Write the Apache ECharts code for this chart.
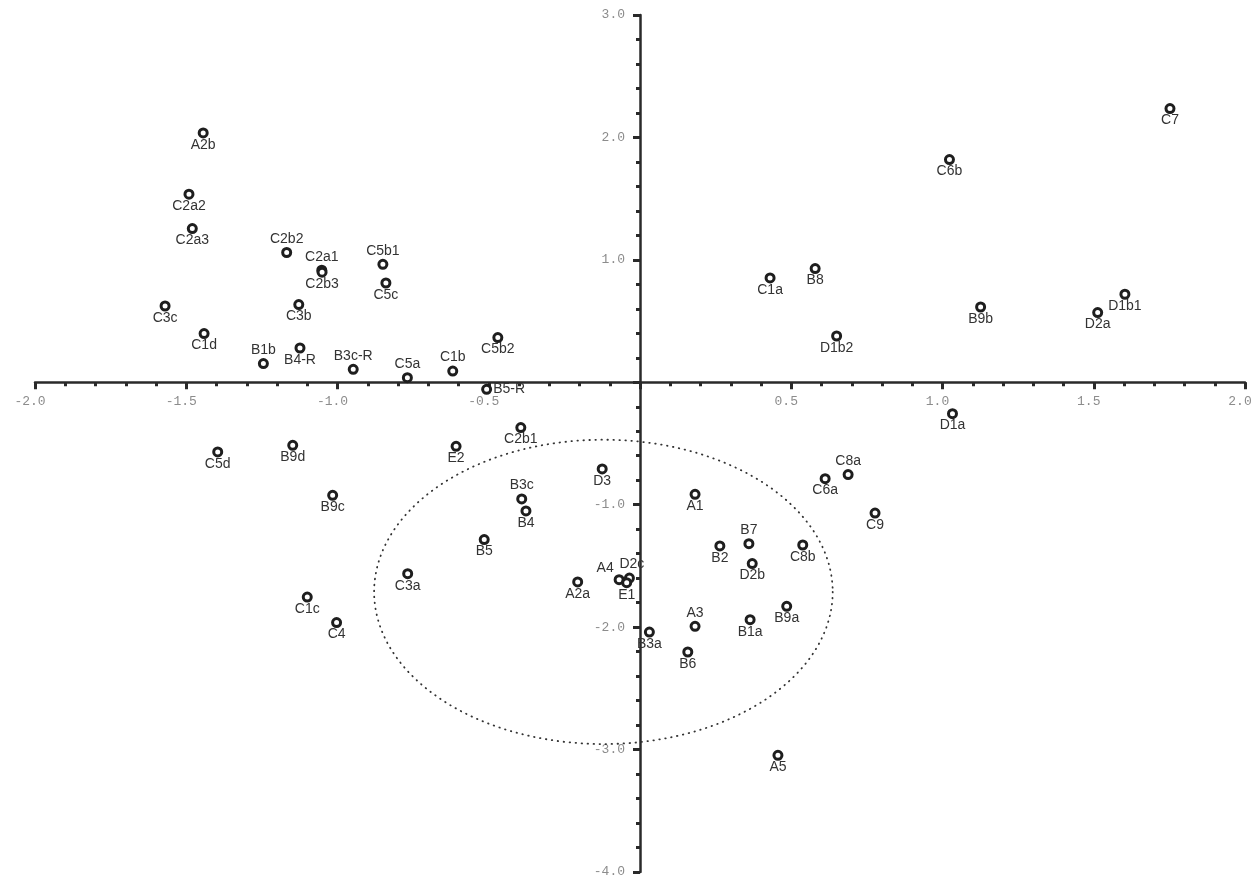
<!DOCTYPE html>
<html>
<head>
<meta charset="utf-8">
<script src="https://cdn.jsdelivr.net/npm/echarts@6/dist/echarts.min.js"></script>
<style>
html,body{margin:0;padding:0;background:#fff;}
#chart{width:1260px;height:879px;}
</style>
</head>
<body>
<div id="chart"></div>
<script>
// ---- data ----
const names = ['A2b','C2a2','C2a3','C2b2','C2a1','C2b3','C5b1','C5c','C3c','C3b','C1d','B1b','B4-R','B3c-R','C5a','C1b','C5b2','B5-R',
  'C1a','B8','D1b2','B9b','D2a','D1b1','D1a','C6b','C7',
  'C5d','B9d','B9c','C1c','C4',
  'C2b1','E2','D3','B3c','B4','B5','C3a','A2a','A4','D2c','E1',
  'B2','B7','C8b','D2b','B9a','B1a','A3','B3a','B6','A1','C6a','C8a','C9','A5'];
const xValues = [-1.444,-1.491,-1.480,-1.168,-1.052,-1.051,-0.850,-0.840,-1.570,-1.128,-1.441,-1.245,-1.124,-0.948,-0.769,-0.619,-0.470,-0.507,
  0.430,0.579,0.650,1.126,1.513,1.603,1.033,1.023,1.752,
  -1.396,-1.148,-1.016,-1.100,-1.003,
  -0.394,-0.608,-0.125,-0.391,-0.377,-0.515,-0.768,-0.206,-0.069,-0.035,-0.044,
  0.264,0.360,0.538,0.371,0.485,0.364,0.182,0.031,0.158,0.182,0.612,0.688,0.777,0.456];
const yValues = [2.037,1.536,1.256,1.060,0.915,0.899,0.964,0.811,0.623,0.635,0.398,0.153,0.280,0.106,0.038,0.092,0.365,-0.057,
  0.852,0.929,0.378,0.615,0.569,0.719,-0.256,1.819,2.236,
  -0.569,-0.515,-0.923,-1.754,-1.963,
  -0.370,-0.523,-0.708,-0.953,-1.051,-1.285,-1.563,-1.631,-1.612,-1.599,-1.637,
  -1.337,-1.318,-1.329,-1.481,-1.830,-1.939,-1.993,-2.040,-2.203,-0.915,-0.787,-0.754,-1.068,-3.047];
const ellipseCenter = [-0.121, -1.712];
const ellipseRadii = [0.758, 1.243];
const xTicks = [-2.0,-1.5,-1.0,-0.5,0.5,1.0,1.5,2.0];
const yTicks = [-4.0,-3.0,-2.0,-1.0,1.0,2.0,3.0];

// ---- label placement (style) ----
const labelAbove = new Set(['C2b2','C2a1','C5b1','B1b','B3c-R','C5a','C1b','B3c','B7','A3','C8a']);
const labelRight = new Set(['B5-R']);
const labelCustom = {
  'A4': {position:[-8.5, -5.5], align:'center', verticalAlign:'middle'},
  'D2c': {position:[8, -8], align:'center', verticalAlign:'middle'}
};

const points = names.map((n, i) => {
  let label;
  if (labelCustom[n]) label = Object.assign({}, labelCustom[n]);
  else if (labelRight.has(n)) label = {position:'right', distance:1};
  else if (labelAbove.has(n)) label = {position:'top', distance:1};
  else label = {position:'bottom', distance:-0.5};
  return { name: n, value: [xValues[i], yValues[i]], label: label };
});

const chart = echarts.init(document.getElementById('chart'), null, {renderer:'canvas'});
const axisColor = '#2a2a2a';
const tickFont = {fontFamily:'Liberation Mono', fontSize:13, color:'#8c8c8c'};

chart.setOption({
  animation: false,
  backgroundColor: '#ffffff',
  grid: { left: 35, right: 15, top: 15, bottom: 7, containLabel: false, outerBoundsMode: 'none' },
  xAxis: {
    type: 'value', min: -2, max: 2, interval: 0.5, position: 'bottom', offset: 0,
    axisLine: { onZero: false, lineStyle: { color: axisColor, width: 2.5 } },
    axisTick: { show: true, inside: false, length: 7, lineStyle: { color: axisColor, width: 3 } },
    minorTick: { show: true, splitNumber: 5, length: 4, lineStyle: { color: axisColor, width: 3 } },
    splitLine: { show: false },
    axisLabel: Object.assign({
      margin: 13, padding: [0, 10, 0, 0], showMinLabel: true, showMaxLabel: true,
      formatter: v => xTicks.some(t => Math.abs(t - v) < 1e-9) ? v.toFixed(1) : ''
    }, tickFont)
  },
  yAxis: {
    type: 'value', min: -4, max: 3, interval: 1, position: 'left', offset: 0,
    axisLine: { onZero: false, lineStyle: { color: axisColor, width: 2.5 } },
    axisTick: { show: true, inside: false, length: 7, lineStyle: { color: axisColor, width: 3 } },
    minorTick: { show: true, splitNumber: 5, length: 4, lineStyle: { color: axisColor, width: 3 } },
    splitLine: { show: false },
    axisLabel: Object.assign({
      margin: 15, showMinLabel: true, showMaxLabel: true,
      formatter: v => yTicks.some(t => Math.abs(t - v) < 1e-9) ? v.toFixed(1) : ''
    }, tickFont)
  },
  series: [
    {
      type: 'custom',
      coordinateSystem: 'cartesian2d',
      silent: true,
      clip: false,
      z: 1,
      data: [[ellipseCenter[0], ellipseCenter[1], ellipseRadii[0], ellipseRadii[1]]],
      renderItem: function (params, api) {
        const c = api.coord([api.value(0), api.value(1)]);
        const s = api.size([api.value(2), api.value(3)]);
        const pts = [];
        const N = 240;
        for (let k = 0; k <= N; k++) {
          const a = 2 * Math.PI * k / N;
          pts.push([c[0] + s[0] * Math.cos(a), c[1] + s[1] * Math.sin(a)]);
        }
        return {
          type: 'polyline',
          shape: { points: pts },
          style: { stroke: '#333', lineWidth: 1.8, fill: null, lineDash: [0.5, 5.5], lineCap: 'round' }
        };
      }
    },
    {
      type: 'scatter',
      z: 3,
      symbol: 'circle',
      symbolSize: 8,
      itemStyle: { color: '#ffffff', borderColor: '#1e1e1e', borderWidth: 3, opacity: 1 },
      label: {
        show: true,
        formatter: p => p.name,
        fontFamily: 'Liberation Sans',
        fontSize: 14,
        color: '#333'
      },
      labelLayout: { hideOverlap: false },
      data: points
    }
  ]
});

// move the axes so they cross at the origin (labels follow)
const origin = chart.convertToPixel({gridIndex: 0}, [0, 0]);
const corner = chart.convertToPixel({gridIndex: 0}, [-2, -4]);
chart.setOption({
  xAxis: { offset: -(corner[1] - origin[1]) },
  yAxis: { offset: -(origin[0] - corner[0]) }
});
</script>
</body>
</html>
